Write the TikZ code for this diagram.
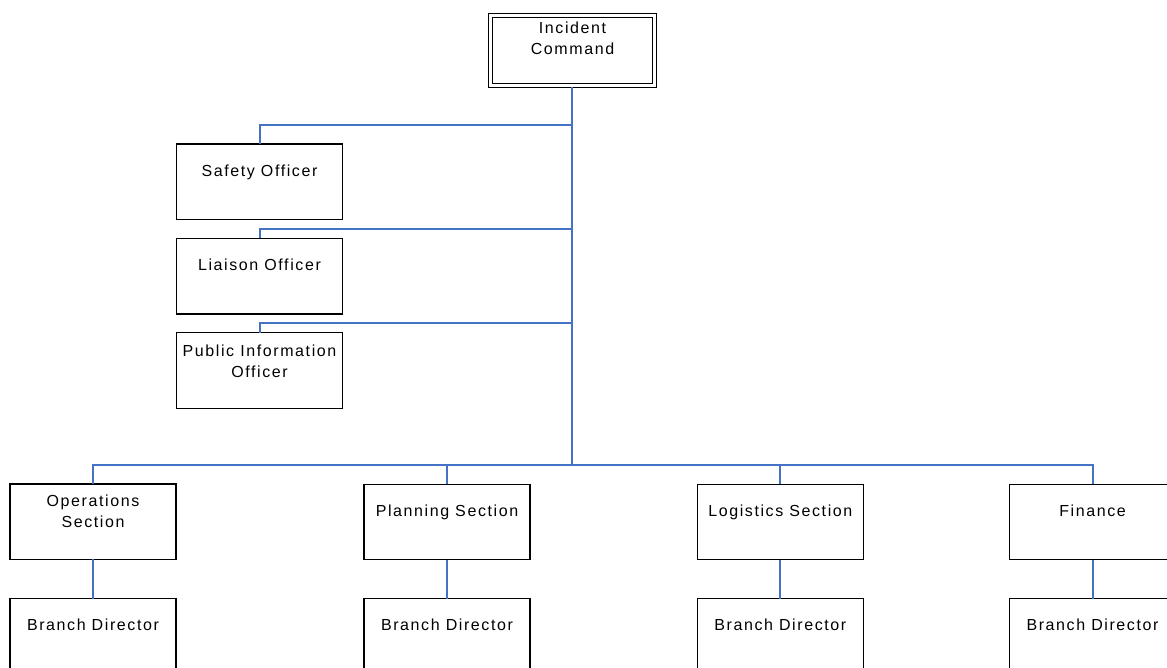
\documentclass[tikz,border=0pt]{standalone}
\usepackage{fontspec}
\setmainfont{Liberation Sans}[LetterSpace=10]
\definecolor{conn}{RGB}{68,114,196}
\begin{document}
\begin{tikzpicture}[x=1pt,y=-1pt,
  box/.style={draw=black, line width=1.4pt, minimum width=166pt, minimum height=75.5pt, inner sep=0pt, outer sep=0pt},
  dbox/.style={draw=black, line width=1.2pt, double=white, double distance=2.8pt, minimum width=164pt, minimum height=70pt, inner sep=0pt, outer sep=0pt},
  lbl/.style={anchor=north, inner sep=0pt, align=center, font=\fontsize{16}{21}\selectfont},
  wire/.style={draw=conn, line width=2pt}]
\useasboundingbox (0,0) rectangle (1167,668);
\clip (0,0) rectangle (1167,668);
% boxes
\node[dbox] (ic) at (572.5,50.3) {};
\node[box] (so) at (259.5,181.7) {};
\node[box] (lo) at (259.5,276.2) {};
\node[box] (pio) at (259.5,370.5) {};
\node[box] (ops) at (93,521.7) {};
\node[box] (pln) at (447,522) {};
\node[box] (lgs) at (780.3,522) {};
\node[box] (fin) at (1092.5,522) {};
\node[box] (bd1) at (93,636.5) {};
\node[box] (bd2) at (447,636.5) {};
\node[box] (bd3) at (780.3,636.5) {};
\node[box] (bd4) at (1092.5,636.5) {};
% labels
\node[lbl] (icl) at ([yshift=-6.8pt]ic.north) {Incident\\Command};
\node[lbl] (sol) at ([yshift=-20.5pt]so.north) {Safety Officer};
\node[lbl] (lol) at ([yshift=-20.5pt]lo.north) {Liaison Officer};
\node[lbl] (piol) at ([yshift=-11.5pt]pio.north) {Public Information\\Officer};
\node[lbl] (opsl) at ([yshift=-10.5pt]ops.north) {Operations\\Section};
\node[lbl] (plnl) at ([yshift=-20.5pt]pln.north) {Planning Section};
\node[lbl] (lgsl) at ([yshift=-20.5pt]lgs.north) {Logistics Section};
\node[lbl] (finl) at ([yshift=-20.5pt]fin.north) {Finance};
\node[lbl] (bd1l) at ([yshift=-19.5pt]bd1.north) {Branch Director};
\node[lbl] (bd2l) at ([yshift=-19.5pt]bd2.north) {Branch Director};
\node[lbl] (bd3l) at ([yshift=-19.5pt]bd3.north) {Branch Director};
\node[lbl] (bd4l) at ([yshift=-19.5pt]bd4.north) {Branch Director};
% connectors
\coordinate (hub) at (572,465.3);
\draw[wire] ([xshift=-0.5pt,yshift=-2.2pt]ic.south) -- (hub);
\draw[wire] (so.north) |- (572,124.7);
\draw[wire] (lo.north) |- (572,229);
\draw[wire] (pio.north) |- (572,323.3);
\draw[wire] (ops.north) |- (hub);
\draw[wire] (fin.north) |- (hub);
\draw[wire] (pln.north) -- (pln.north |- hub);
\draw[wire] (lgs.north) -- (lgs.north |- hub);
\draw[wire] (ops.south) -- (bd1.north);
\draw[wire] (pln.south) -- (bd2.north);
\draw[wire] (lgs.south) -- (bd3.north);
\draw[wire] (fin.south) -- (bd4.north);
\end{tikzpicture}
\end{document}
